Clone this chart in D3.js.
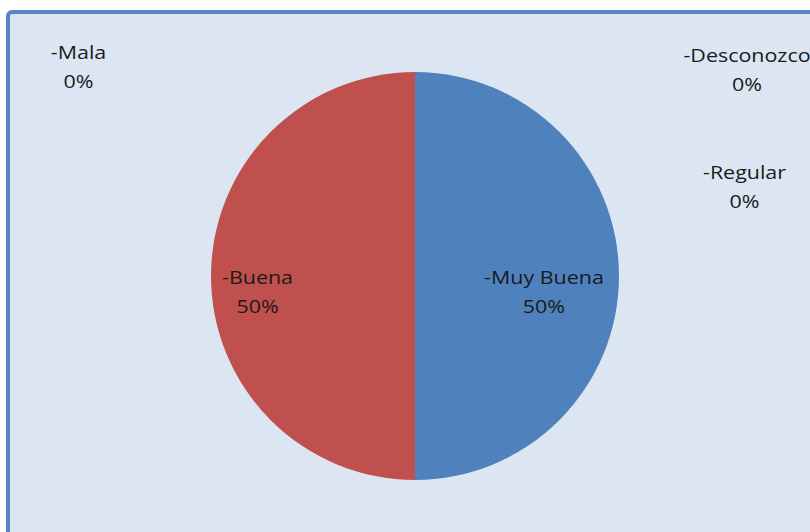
<!DOCTYPE html>
<html><head><meta charset="utf-8">
<script src="https://cdn.jsdelivr.net/npm/d3@7/dist/d3.min.js"></script>
<style>html,body{margin:0;padding:0;background:#fff;overflow:hidden}</style>
</head><body>
<svg id="chart" width="810" height="532"></svg>
<script>
const categories = ["-Muy Buena", "-Buena", "-Mala", "-Regular", "-Desconozco"];
const values = [50, 50, 0, 0, 0];
const percentLabels = ["50%", "50%", "0%", "0%", "0%"];
const colors = ["#4f81bd", "#c0504d", "#9bbb59", "#8064a2", "#4bacc6"];

// layout config (not data): radial factor for slice labels, fixed anchors for zero-value labels
const labelRadial = [0.632, 0.772, null, null, null];
const labelPos = [null, null, [78.5, 59], [744.5, 179], [747, 62]];

const svg = d3.select("#chart");
svg.append("rect").attr("x", 8).attr("y", 12).attr("width", 840).attr("height", 560)
  .attr("rx", 4).attr("fill", "#dce6f2").attr("stroke", "#5585c4").attr("stroke-width", 4);

const cx = 415, cy = 276, r = 204;
const pie = d3.pie().sort(null).value(d => d.v).startAngle(0).endAngle(2 * Math.PI);
const data = categories.map((c, i) => ({c, v: values[i], p: percentLabels[i], col: colors[i], i}));
const arcs = pie(data);
const arc = d3.arc().innerRadius(0).outerRadius(r);
const g = svg.append("g").attr("transform", `translate(${cx},${cy})`);
g.selectAll("path").data(arcs.filter(a => a.data.v > 0)).join("path")
  .attr("d", arc).attr("fill", d => d.data.col);

const font = "'Open Sans', sans-serif";
arcs.forEach(a => {
  let x, y;
  if (a.data.v > 0) {
    const k = labelRadial[a.data.i];
    const c = d3.arc().innerRadius(r * k).outerRadius(r * k).centroid(a);
    x = cx + c[0]; y = cy + 8;
  } else {
    [x, y] = labelPos[a.data.i];
  }
  const t = svg.append("text").attr("transform", `translate(${x},${y}) scale(1.16,1)`)
    .attr("text-anchor", "middle")
    .attr("font-family", font).attr("font-size", 18.5).attr("fill", "#1a1a1a");
  t.append("tspan").attr("x", 0).attr("y", 0).text(a.data.c);
  t.append("tspan").attr("x", 0).attr("y", 29).text(a.data.p);
});
</script>
</body></html>
